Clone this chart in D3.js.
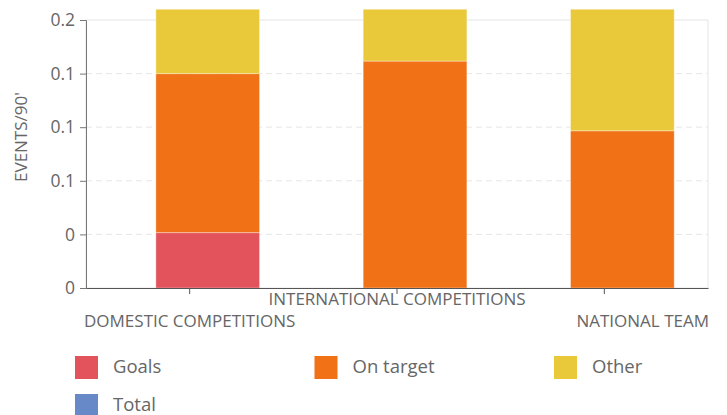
<!DOCTYPE html>
<html>
<head>
<meta charset="utf-8">
<script src="https://cdn.jsdelivr.net/npm/d3@7"></script>
<style>
	body { margin: 0; background: #fff; }
	svg { font-family: "Open Sans", sans-serif; }
	.axis text { fill: #666; }
</style>
</head>
<body>
<div id="chart"></div>
<script>
"use strict";

const categories = ["DOMESTIC COMPETITIONS", "INTERNATIONAL COMPETITIONS", "NATIONAL TEAM"];
const seriesNames = ["Goals", "On target", "Other", "Total"];
const seriesColors = ["#e2535b", "#f07116", "#e9c939", "#6789c7"];
const goals = [0.031, 0, 0];
const onTarget = [0.089, 0.127, 0.088];
const other = [0.036, 0.029, 0.068];
const tickValues = [0, 0.03, 0.06, 0.09, 0.12, 0.15];
const tickLabels = ["0", "0", "0.1", "0.1", "0.1", "0.2"];

const W = 727, H = 415;
const margin = { top: 20, right: 19, bottom: 127, left: 86 };
const w = W - margin.left - margin.right;
const h = H - margin.top - margin.bottom;

const svg = d3.select("#chart")
	.append("svg")
	.attr("width", W)
	.attr("height", H);

const g = svg.append("g")
	.attr("transform", `translate(${margin.left},${margin.top})`);

const x = d3.scaleBand().domain(categories).range([0, w]);
const y = d3.scaleLinear().domain([0, 0.15]).range([h, 0]);

// plot frame (light)
g.append("rect")
	.attr("width", w).attr("height", h)
	.attr("fill", "none")
	.attr("stroke", "#e6e6e6");

// dashed grid
g.selectAll("line.grid")
	.data(tickValues.slice(1, -1))
	.enter()
	.append("line")
	.attr("class", "grid")
	.attr("x1", 0).attr("x2", w)
	.attr("y1", d => y(d)).attr("y2", d => y(d))
	.attr("stroke", "#e6e6e6")
	.attr("stroke-dasharray", "6,4");

// stacked data
const rows = categories.map((c, i) => ({ cat: c, Goals: goals[i], "On target": onTarget[i], Other: other[i] }));
const stack = d3.stack().keys(seriesNames.slice(0, 3))(rows);

// bars sit right of the band centre
const barW = x.bandwidth() / 2;
const barX = c => x(c) + x.bandwidth() * 0.337;

g.selectAll("g.layer")
	.data(stack)
	.enter()
	.append("g")
	.attr("class", "layer")
	.attr("fill", (d, i) => seriesColors[i])
	.selectAll("rect")
	.data(d => d.filter(p => p[1] - p[0] > 0))
	.enter()
	.append("rect")
	.attr("x", d => barX(d.data.cat))
	.attr("width", barW)
	.attr("y", d => y(d[1]))
	.attr("height", d => y(d[0]) - y(d[1]))
	.attr("stroke", "#fff")
	.attr("stroke-opacity", 0.35)
	.attr("stroke-width", 1);

// y axis
const yAxis = g.append("g")
	.attr("class", "axis")
	.call(d3.axisLeft(y).tickValues(tickValues).tickFormat((d, i) => tickLabels[i]).tickSize(6).tickPadding(5));
yAxis.attr("font-family", null).attr("font-size", null);
yAxis.select(".domain").attr("stroke", "#777");
yAxis.selectAll(".tick line").attr("stroke", "#777");
yAxis.selectAll("text").style("font-size", "17.5px");

// x axis
const xAxis = g.append("g")
	.attr("class", "axis")
	.attr("transform", `translate(0,${h})`)
	.call(d3.axisBottom(x).tickSize(6).tickSizeOuter(0));
xAxis.attr("font-family", null).attr("font-size", null);
xAxis.select(".domain").attr("stroke", "#555");
xAxis.selectAll(".tick line").attr("stroke", "#555");
xAxis.selectAll("text")
	.style("font-size", "17px")
	.attr("dy", null)
	.attr("y", (d, i) => i % 2 ? 17 : 39)
	.attr("text-anchor", (d, i) => i === categories.length - 1 ? "end" : "middle")
	.attr("x", (d, i) => i === categories.length - 1 ? w - x(d) - x.bandwidth() / 2 + 1 : 0);

// y title
svg.append("text")
	.attr("transform", `translate(27,137) rotate(-90)`)
	.attr("text-anchor", "middle")
	.style("font-size", "17px")
	.attr("fill", "#666")
	.text("EVENTS/90'");

// legend
const legend = svg.append("g")
	.selectAll("g")
	.data(seriesNames)
	.enter()
	.append("g")
	.attr("transform", (d, i) => `translate(${75 + (i % 3) * 239.5},${356 + Math.floor(i / 3) * 38})`);

legend.append("rect")
	.attr("width", 23).attr("height", 23)
	.attr("fill", (d, i) => seriesColors[i]);

legend.append("text")
	.attr("x", 38).attr("y", 17)
	.style("font-size", "18.5px")
	.attr("fill", "#666")
	.text(d => d);
</script>
</body>
</html>
